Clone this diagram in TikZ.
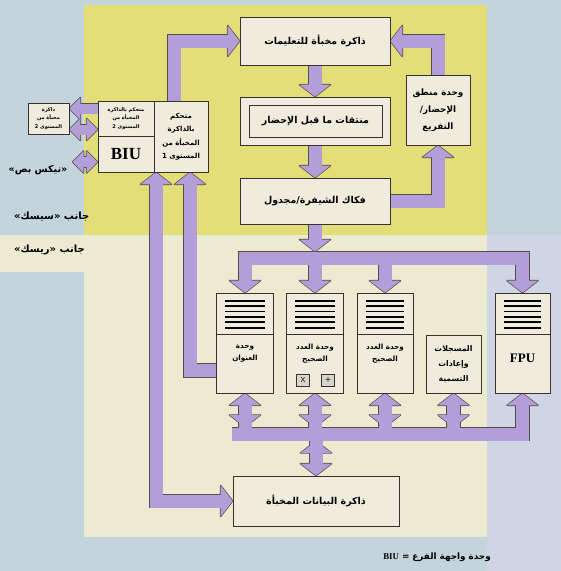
\documentclass[tikz,border=0pt]{standalone}
\usepackage{fontspec}
\setmainfont{Liberation Serif}
\newfontfamily\ar[Script=Arabic]{DejaVu Sans}
\TeXXeTstate=1
\usetikzlibrary{calc}
\definecolor{bgb}{RGB}{196,212,221}
\definecolor{bgl}{RGB}{208,213,229}
\definecolor{yel}{RGB}{228,222,120}
\definecolor{bei}{RGB}{237,234,210}
\definecolor{boxc}{RGB}{239,236,222}
\definecolor{bd}{RGB}{55,50,45}
\definecolor{lav}{RGB}{180,158,218}
\definecolor{aout}{RGB}{85,78,72}
\newcommand\rl[1]{\beginR#1\endR}
\pgfdeclarelayer{bg}
\pgfsetlayers{bg,main}
\tikzset{
 box/.style={draw=bd, fill=boxc, line width=0.7pt, inner sep=0pt, align=center, font=\ar\bfseries\fontsize{9.5}{12}\selectfont},
 ulab/.style={inner sep=0pt, align=center, font=\ar\bfseries\fontsize{7.2}{12}\selectfont},
 lab/.style={inner sep=0pt, font=\ar\bfseries\fontsize{10}{12}\selectfont},
 sho/.style={draw=aout, line width=14.4pt, line join=miter},
 shi/.style={draw=lav, line width=13pt, line join=miter},
 sso/.style={draw=aout, line width=11.4pt, line join=miter},
 ssi/.style={draw=lav, line width=10pt, line join=miter},
 hdo/.style={fill=aout, draw=aout, line width=1.4pt, line join=round},
 hdi/.style={fill=lav},
}
\newcommand\hd[3]{\path[#1, shift={(#2)}, rotate=#3] (0,0) -- (-12,15.5) -- (-12,-15.5) -- cycle;}
\newcommand\hs[3]{\path[#1, shift={(#2)}, rotate=#3] (0,0) -- (-11,11) -- (-11,-11) -- cycle;}
\newcommand\conns[1]{%
 \draw[sh#1, shorten >=11pt] (p1) |- (ic.west); \hd{hd#1}{ic.west}{0}
 \draw[sh#1, shorten >=11pt] (ic.south) -- (pf.north); \hd{hd#1}{pf.north}{-90}
 \draw[sh#1, shorten >=11pt] (pf.south) -- (dec.north); \hd{hd#1}{dec.north}{-90}
 \draw[sh#1, shorten >=11pt] (dec.east) -| (fb.south); \hd{hd#1}{fb.south}{90}
 \draw[sh#1, shorten >=11pt] (fb.north) |- (ic.east); \hd{hd#1}{ic.east}{180}
 \draw[sh#1, shorten >=11pt] (dec.south) -- (dtip); \hd{hd#1}{dtip}{-90}
 \draw[sh#1, shorten <=11pt, shorten >=11pt] (au.north) -- (au.north |- bar) -- (fpu.north |- bar) -- (fpu.north);
 \hd{hd#1}{au.north}{-90}\hd{hd#1}{fpu.north}{-90}
 \draw[sh#1, shorten >=11pt] (iu1.north |- bar) -- (iu1.north); \hd{hd#1}{iu1.north}{-90}
 \draw[sh#1, shorten >=11pt] (iu2.north |- bar) -- (iu2.north); \hd{hd#1}{iu2.north}{-90}
 \draw[sh#1, shorten >=11pt] (busl) -| (fpu.south); \hd{hd#1}{fpu.south}{90}
 \foreach \u in {au,iu1,iu2,reg}{
   \coordinate (t) at ($(\u.south |- bus)+(0,-7)$);
   \draw[sh#1, shorten <=11pt] (\u.south) -- (\u.south |- bus);
   \hd{hd#1}{\u.south}{90}\hd{hd#1}{t}{-90}
 }
 \coordinate (t) at ($(dc.north |- bus)+(0,7)$);
 \draw[sh#1, shorten >=11pt] (dc.north |- bus) -- (dc.north);
 \hd{hd#1}{dc.north}{-90}\hd{hd#1}{t}{90}
 \draw[sh#1, shorten <=11pt, shorten >=11pt] (p2) |- (dc.west);
 \hd{hd#1}{p2}{90}\hd{hd#1}{dc.west}{0}
 \draw[sh#1, shorten <=11pt] (p3) |- (p3e); \hd{hd#1}{p3}{90}
 \draw[ss#1, shorten >=10pt] (l2a) -- (l2ae); \hs{hd#1}{l2ae}{180}
 \draw[ss#1, shorten <=10pt, shorten >=10pt] (l2be) -- (l2b); \hs{hd#1}{l2be}{180}\hs{hd#1}{l2b}{0}
 \draw[ss#1, shorten <=10pt, shorten >=10pt] (nbe) -- (nb); \hs{hd#1}{nbe}{180}\hs{hd#1}{nb}{0}
}
\begin{document}
\begin{tikzpicture}[x=1pt, y=-1pt]
\useasboundingbox (0,0) rectangle (561,571);
% boxes
\node[box, minimum width=150pt, minimum height=48pt] (ic) at (315,41) {\rl{ذاكرة مخبأة للتعليمات}};
\node[box, minimum width=150pt, minimum height=48pt] (pf) at (315,121) {};
\node[box, minimum width=133pt, minimum height=32pt] (pfi) at (315.5,121) {\rl{منتقات ما قبل الإحضار}};
\node[box, minimum width=150pt, minimum height=46pt] (dec) at (315,201) {\rl{فكاك الشيفرة/مجدول}};
\node[box, minimum width=64pt, minimum height=70pt, font=\ar\bfseries\fontsize{8.8}{17}\selectfont] (fb) at (438,110) {\rl{وحدة منطق}\\\rl{الإحضار/}\\\rl{التفريع}};
\node[box, minimum width=56pt, minimum height=35pt, font=\ar\bfseries\fontsize{5}{8.5}\selectfont] (l2ctl) at (126,118.5) {\rl{متحكم بالذاكرة}\\\rl{المخبأة من}\\\rl{المستوى 2}};
\node[box, minimum width=56pt, minimum height=36pt, font=\rmfamily\bfseries\fontsize{17}{17}\selectfont] (biu) at (126,154) {BIU};
\node[box, minimum width=54pt, minimum height=71pt, font=\ar\bfseries\fontsize{7}{13.5}\selectfont] (l1) at (181,136.5) {\rl{متحكم}\\\rl{بالذاكرة}\\\rl{المخبأة من}\\\rl{المستوى 1}};
\node[box, minimum width=41pt, minimum height=31pt, font=\ar\bfseries\fontsize{5}{8.5}\selectfont] (l2c) at (48.5,118.5) {\rl{ذاكرة}\\\rl{مخبأة من}\\\rl{المستوى 2}};
% execution units
\node[box, minimum width=57pt, minimum height=100pt] (au) at (245,343) {};
\node[box, minimum width=57pt, minimum height=100pt] (iu1) at (315,343) {};
\node[box, minimum width=56pt, minimum height=100pt] (iu2) at (385,343) {};
\node[box, minimum width=55pt, minimum height=58pt, font=\ar\bfseries\fontsize{7.8}{15}\selectfont] (reg) at (453.5,364) {\rl{المسجلات}\\\rl{وإعادات}\\\rl{التسمية}};
\node[box, minimum width=55pt, minimum height=100pt] (fpu) at (522.5,343) {};
\foreach \u in {au,iu1,iu2,fpu}{
  \draw[bd, line width=0.7pt] ($(\u.north west)+(0,42)$) -- ($(\u.north east)+(0,42)$);
  \foreach \k in {0,...,5}
    \draw[black, line width=1.7pt] ($(\u.north west)+(9,8+5.4*\k)$) -- ($(\u.north east)+(-9,8+5.4*\k)$);
}
\node[ulab] (aul) at (245,354) {\rl{وحدة}\\\rl{العنوان}};
\node[ulab] (iu1l) at (315,354) {\rl{وحدة العدد}\\\rl{الصحيح}};
\node[ulab] (iu2l) at (385,354) {\rl{وحدة العدد}\\\rl{الصحيح}};
\node[draw=bd, line width=0.6pt, fill=boxc!80!gray, minimum width=13pt, minimum height=12pt, inner sep=0pt, font=\sffamily\fontsize{7}{7}\selectfont] (xb) at (303,380) {X};
\node[draw=bd, line width=0.6pt, fill=boxc!80!gray, minimum width=13pt, minimum height=12pt, inner sep=0pt, font=\sffamily\bfseries\fontsize{7}{7}\selectfont] (pb) at (328,380) {+};
\node[inner sep=0pt, font=\rmfamily\bfseries\fontsize{13}{13}\selectfont] (fpul) at (522.5,358) {FPU};
\node[box, minimum width=166pt, minimum height=50pt] (dc) at (316,501) {\rl{ذاكرة البيانات المخبأة}};
% labels
\node[lab, font=\ar\bfseries\fontsize{9.5}{12}\selectfont] (nexl) at (38,170) {\rl{«نيكس بص»}};
\node[lab, anchor=west] (cisc) at (14,217) {\rl{جانب «سيسك»}};
\node[lab, anchor=west] (risc) at (14,250) {\rl{جانب «ريسك»}};
\node[lab, anchor=east, font=\ar\bfseries\fontsize{8.8}{10}\selectfont] (cap) at (491,557) {\beginR وحدة واجهة الفرع = \beginL{\rmfamily\bfseries BIU}\endL\endR};
% connector end points
\coordinate (p1) at ($(l1.north)+(-7,0)$);
\coordinate (p2) at ($(l1.south)+(-25,0)$);
\coordinate (p3) at ($(l1.south)+(9,0)$);
\coordinate (p3e) at ($(au.south west)+(0,-23)$);
\coordinate (bar) at (0,258);
\coordinate (bus) at (0,434);
\coordinate (dtip) at ($(dec.south |- bar)+(0,-6.5)$);
\coordinate (busl) at ($(au.south |- bus)+(-13,0)$);
\coordinate (l2a) at ($(l2ctl.west)+(0,-10)$);
\coordinate (l2ae) at ($(l2c.east)+(0,-10)$);
\coordinate (l2b) at ($(l2ctl.west)+(0,11)$);
\coordinate (l2be) at ($(l2c.east)+(0,11)$);
\coordinate (nb) at ($(biu.west)+(0,8)$);
\coordinate (nbe) at ($(nb)+(-25,0)$);
\begin{pgfonlayer}{bg}
\fill[bgb] (0,0) rectangle (561,571);
\fill[bgl] (487,235) rectangle (561,571);
\fill[yel] (84,5) rectangle (487,235);
\fill[bei] (84,235) rectangle (487,537);
\fill[bei] (0,235) rectangle (84,272);
\conns{o}
\conns{i}
\end{pgfonlayer}
\end{tikzpicture}
\end{document}
